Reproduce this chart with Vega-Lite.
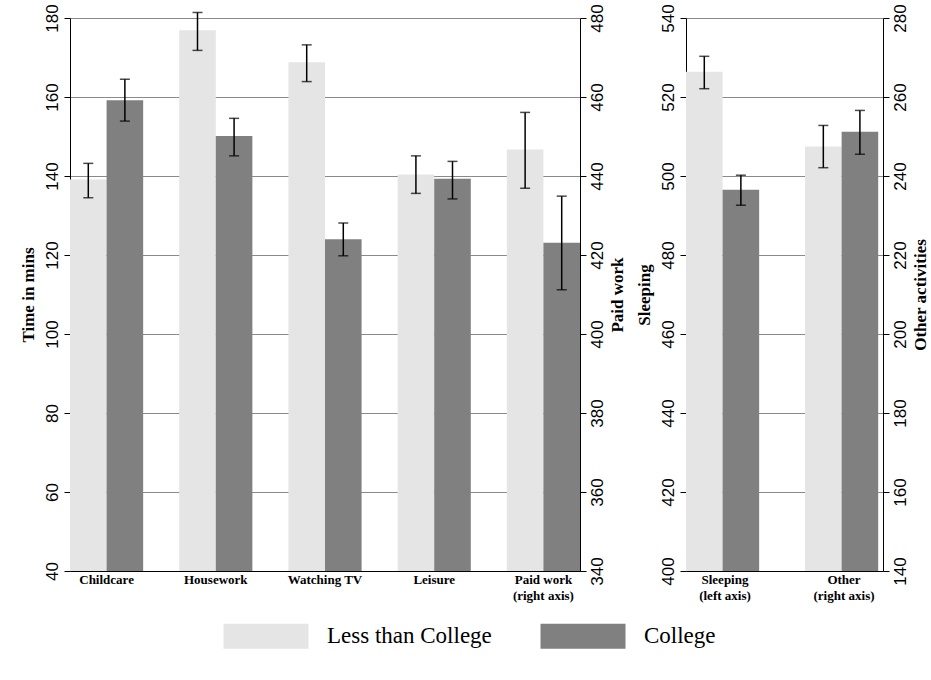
{
  "$schema": "https://vega.github.io/schema/vega-lite/v6.json",
  "background": "white",
  "padding": {"left": 19, "top": 3, "right": 5, "bottom": 5},
  "spacing": 10,
  "datasets": {
    "d": [
      {"group": "Childcare", "edu": "Less than College", "value": 139.1, "lo": 134.5, "hi": 143.2},
      {"group": "Childcare", "edu": "College", "value": 159.2, "lo": 153.9, "hi": 164.5},
      {"group": "Housework", "edu": "Less than College", "value": 176.9, "lo": 171.8, "hi": 181.4},
      {"group": "Housework", "edu": "College", "value": 150.1, "lo": 145.1, "hi": 154.6},
      {"group": "Watching TV", "edu": "Less than College", "value": 168.8, "lo": 163.9, "hi": 173.2},
      {"group": "Watching TV", "edu": "College", "value": 124.0, "lo": 119.8, "hi": 128.1},
      {"group": "Leisure", "edu": "Less than College", "value": 140.4, "lo": 135.6, "hi": 145.1},
      {"group": "Leisure", "edu": "College", "value": 139.3, "lo": 134.2, "hi": 143.7},
      {"group": "Paid work", "edu": "Less than College", "value": 446.7, "lo": 436.9, "hi": 456.1},
      {"group": "Paid work", "edu": "College", "value": 423.1, "lo": 411.2, "hi": 434.9},
      {"group": "Sleeping", "edu": "Less than College", "value": 526.4, "lo": 522.1, "hi": 530.3},
      {"group": "Sleeping", "edu": "College", "value": 496.5, "lo": 492.6, "hi": 500.2},
      {"group": "Other", "edu": "Less than College", "value": 247.5, "lo": 242.1, "hi": 252.8},
      {"group": "Other", "edu": "College", "value": 251.2, "lo": 245.5, "hi": 256.6}
    ]
  },
  "data": {"name": "d"},
  "config": {
    "view": {"stroke": null},
    "axis": {
      "domainColor": "black", "tickColor": "black", "labelColor": "black", "titleColor": "black",
      "labelFont": "Liberation Sans", "labelFontSize": 17,
      "titleFont": "Liberation Serif", "titleFontSize": 17, "titleFontWeight": "bold",
      "gridColor": "#8a8a8a", "gridOpacity": 1, "gridWidth": 1, "tickSize": 6, "domainWidth": 1, "tickWidth": 1
    },
    "axisX": {"labelFont": "Liberation Serif", "labelFontSize": 13, "labelFontWeight": "bold", "labelAngle": 0, "ticks": false, "labelPadding": 2, "labelLineHeight": 16},
    "axisY": {"labelAngle": 270, "labelPadding": 3, "titlePadding": 6, "titleAngle": 270},
    "axisRight": {"titleBaseline": "top", "titlePadding": 4},
    "legend": {"labelLimit": 300}
  },
  "hconcat": [
    {
      "width": 510,
      "height": 553,
      "layer": [
        {
          "transform": [{"filter": {"field": "group", "oneOf": ["Childcare", "Housework", "Watching TV", "Leisure"]}}],
          "encoding": {
            "x": {"field": "group", "type": "nominal", "title": null,
                  "scale": {"domain": ["Childcare", "Housework", "Watching TV", "Leisure", "Paid work"], "paddingInner": 0.33, "paddingOuter": 0},
                  "axis": {"labelExpr": "datum.value == 'Paid work' ? ['Paid work', '(right axis)'] : datum.value"}},
            "xOffset": {"field": "edu", "type": "nominal", "scale": {"domain": ["Less than College", "College"], "paddingInner": 0, "paddingOuter": 0}}
          },
          "layer": [
            {
              "mark": {"type": "bar"},
              "encoding": {
                "y": {"field": "value", "type": "quantitative", "title": "Time in mins",
                      "scale": {"domain": [40, 180], "nice": false, "zero": false},
                      "axis": {"orient": "left", "values": [40, 60, 80, 100, 120, 140, 160, 180], "grid": true}},
                "y2": {"datum": 40},
                "color": {"field": "edu", "type": "nominal",
                          "scale": {"domain": ["Less than College", "College"], "range": ["#e5e5e5", "#808080"]},
                          "legend": {"orient": "none", "legendX": 171, "legendY": 593, "direction": "horizontal", "title": null,
                                     "symbolType": "M-1.7,-0.5H1.7V0.5H-1.7Z", "symbolSize": 2500, "symbolStrokeWidth": 0,
                                     "labelFont": "Liberation Serif", "labelFontSize": 23, "labelColor": "black", "labelOffset": 36, "columnPadding": 48}}
              }
            },
            {
              "mark": {"type": "rule", "color": "black", "strokeWidth": 1.5},
              "encoding": {
                "y": {"field": "lo", "type": "quantitative", "title": "Time in mins", "scale": {"domain": [40, 180], "nice": false, "zero": false}},
                "y2": {"field": "hi"}
              }
            },
            {
              "mark": {"type": "tick", "color": "black", "size": 10, "thickness": 1.5},
              "encoding": {"y": {"field": "lo", "type": "quantitative", "title": "Time in mins", "scale": {"domain": [40, 180], "nice": false, "zero": false}}}
            },
            {
              "mark": {"type": "tick", "color": "black", "size": 10, "thickness": 1.5},
              "encoding": {"y": {"field": "hi", "type": "quantitative", "title": "Time in mins", "scale": {"domain": [40, 180], "nice": false, "zero": false}}}
            }
          ]
        },
        {
          "transform": [{"filter": {"field": "group", "oneOf": ["Paid work"]}}],
          "encoding": {
            "x": {"field": "group", "type": "nominal", "title": null,
                  "scale": {"domain": ["Childcare", "Housework", "Watching TV", "Leisure", "Paid work"], "paddingInner": 0.33, "paddingOuter": 0},
                  "axis": {"labelExpr": "datum.value == 'Paid work' ? ['Paid work', '(right axis)'] : datum.value"}},
            "xOffset": {"field": "edu", "type": "nominal", "scale": {"domain": ["Less than College", "College"], "paddingInner": 0, "paddingOuter": 0}}
          },
          "layer": [
            {
              "mark": {"type": "bar"},
              "encoding": {
                "y": {"field": "value", "type": "quantitative", "title": "Paid work",
                      "scale": {"domain": [340, 480], "nice": false, "zero": false},
                      "axis": {"orient": "right", "values": [340, 360, 380, 400, 420, 440, 460, 480], "grid": false}},
                "y2": {"datum": 340},
                "color": {"field": "edu", "type": "nominal",
                          "scale": {"domain": ["Less than College", "College"], "range": ["#e5e5e5", "#808080"]},
                          "legend": {"orient": "none", "legendX": 171, "legendY": 593, "direction": "horizontal", "title": null,
                                     "symbolType": "M-1.7,-0.5H1.7V0.5H-1.7Z", "symbolSize": 2500, "symbolStrokeWidth": 0,
                                     "labelFont": "Liberation Serif", "labelFontSize": 23, "labelColor": "black", "labelOffset": 36, "columnPadding": 48}}
              }
            },
            {
              "mark": {"type": "rule", "color": "black", "strokeWidth": 1.5},
              "encoding": {
                "y": {"field": "lo", "type": "quantitative", "title": "Paid work", "scale": {"domain": [340, 480], "nice": false, "zero": false}},
                "y2": {"field": "hi"}
              }
            },
            {
              "mark": {"type": "tick", "color": "black", "size": 10, "thickness": 1.5},
              "encoding": {"y": {"field": "lo", "type": "quantitative", "title": "Paid work", "scale": {"domain": [340, 480], "nice": false, "zero": false}}}
            },
            {
              "mark": {"type": "tick", "color": "black", "size": 10, "thickness": 1.5},
              "encoding": {"y": {"field": "hi", "type": "quantitative", "title": "Paid work", "scale": {"domain": [340, 480], "nice": false, "zero": false}}}
            }
          ]
        }
      ],
      "resolve": {"scale": {"y": "independent"}, "axis": {"y": "independent"}}
    },
    {
      "width": 197,
      "height": 553,
      "layer": [
        {
          "transform": [{"filter": {"field": "group", "oneOf": ["Sleeping"]}}],
          "encoding": {
            "x": {"field": "group", "type": "nominal", "title": null,
                  "scale": {"domain": ["Sleeping", "Other"], "paddingInner": 0.345, "paddingOuter": 0},
                  "axis": {"labelExpr": "datum.value == 'Sleeping' ? ['Sleeping', '(left axis)'] : ['Other', '(right axis)']"}},
            "xOffset": {"field": "edu", "type": "nominal", "scale": {"domain": ["Less than College", "College"], "paddingInner": 0, "paddingOuter": 0}}
          },
          "layer": [
            {
              "mark": {"type": "bar"},
              "encoding": {
                "y": {"field": "value", "type": "quantitative", "title": "Sleeping",
                      "scale": {"domain": [400, 540], "nice": false, "zero": false},
                      "axis": {"orient": "left", "values": [400, 420, 440, 460, 480, 500, 520, 540], "grid": true}},
                "y2": {"datum": 400},
                "color": {"field": "edu", "type": "nominal",
                          "scale": {"domain": ["Less than College", "College"], "range": ["#e5e5e5", "#808080"]},
                          "legend": {"orient": "none", "legendX": 171, "legendY": 593, "direction": "horizontal", "title": null,
                                     "symbolType": "M-1.7,-0.5H1.7V0.5H-1.7Z", "symbolSize": 2500, "symbolStrokeWidth": 0,
                                     "labelFont": "Liberation Serif", "labelFontSize": 23, "labelColor": "black", "labelOffset": 36, "columnPadding": 48}}
              }
            },
            {
              "mark": {"type": "rule", "color": "black", "strokeWidth": 1.5},
              "encoding": {
                "y": {"field": "lo", "type": "quantitative", "title": "Sleeping", "scale": {"domain": [400, 540], "nice": false, "zero": false}},
                "y2": {"field": "hi"}
              }
            },
            {
              "mark": {"type": "tick", "color": "black", "size": 10, "thickness": 1.5},
              "encoding": {"y": {"field": "lo", "type": "quantitative", "title": "Sleeping", "scale": {"domain": [400, 540], "nice": false, "zero": false}}}
            },
            {
              "mark": {"type": "tick", "color": "black", "size": 10, "thickness": 1.5},
              "encoding": {"y": {"field": "hi", "type": "quantitative", "title": "Sleeping", "scale": {"domain": [400, 540], "nice": false, "zero": false}}}
            }
          ]
        },
        {
          "transform": [{"filter": {"field": "group", "oneOf": ["Other"]}}],
          "encoding": {
            "x": {"field": "group", "type": "nominal", "title": null,
                  "scale": {"domain": ["Sleeping", "Other"], "paddingInner": 0.345, "paddingOuter": 0},
                  "axis": {"labelExpr": "datum.value == 'Sleeping' ? ['Sleeping', '(left axis)'] : ['Other', '(right axis)']"}},
            "xOffset": {"field": "edu", "type": "nominal", "scale": {"domain": ["Less than College", "College"], "paddingInner": 0, "paddingOuter": 0}}
          },
          "layer": [
            {
              "mark": {"type": "bar"},
              "encoding": {
                "y": {"field": "value", "type": "quantitative", "title": "Other activities",
                      "scale": {"domain": [140, 280], "nice": false, "zero": false},
                      "axis": {"orient": "right", "values": [140, 160, 180, 200, 220, 240, 260, 280], "grid": false}},
                "y2": {"datum": 140},
                "color": {"field": "edu", "type": "nominal",
                          "scale": {"domain": ["Less than College", "College"], "range": ["#e5e5e5", "#808080"]},
                          "legend": {"orient": "none", "legendX": 171, "legendY": 593, "direction": "horizontal", "title": null,
                                     "symbolType": "M-1.7,-0.5H1.7V0.5H-1.7Z", "symbolSize": 2500, "symbolStrokeWidth": 0,
                                     "labelFont": "Liberation Serif", "labelFontSize": 23, "labelColor": "black", "labelOffset": 36, "columnPadding": 48}}
              }
            },
            {
              "mark": {"type": "rule", "color": "black", "strokeWidth": 1.5},
              "encoding": {
                "y": {"field": "lo", "type": "quantitative", "title": "Other activities", "scale": {"domain": [140, 280], "nice": false, "zero": false}},
                "y2": {"field": "hi"}
              }
            },
            {
              "mark": {"type": "tick", "color": "black", "size": 10, "thickness": 1.5},
              "encoding": {"y": {"field": "lo", "type": "quantitative", "title": "Other activities", "scale": {"domain": [140, 280], "nice": false, "zero": false}}}
            },
            {
              "mark": {"type": "tick", "color": "black", "size": 10, "thickness": 1.5},
              "encoding": {"y": {"field": "hi", "type": "quantitative", "title": "Other activities", "scale": {"domain": [140, 280], "nice": false, "zero": false}}}
            }
          ]
        }
      ],
      "resolve": {"scale": {"y": "independent"}, "axis": {"y": "independent"}}
    }
  ]
}
